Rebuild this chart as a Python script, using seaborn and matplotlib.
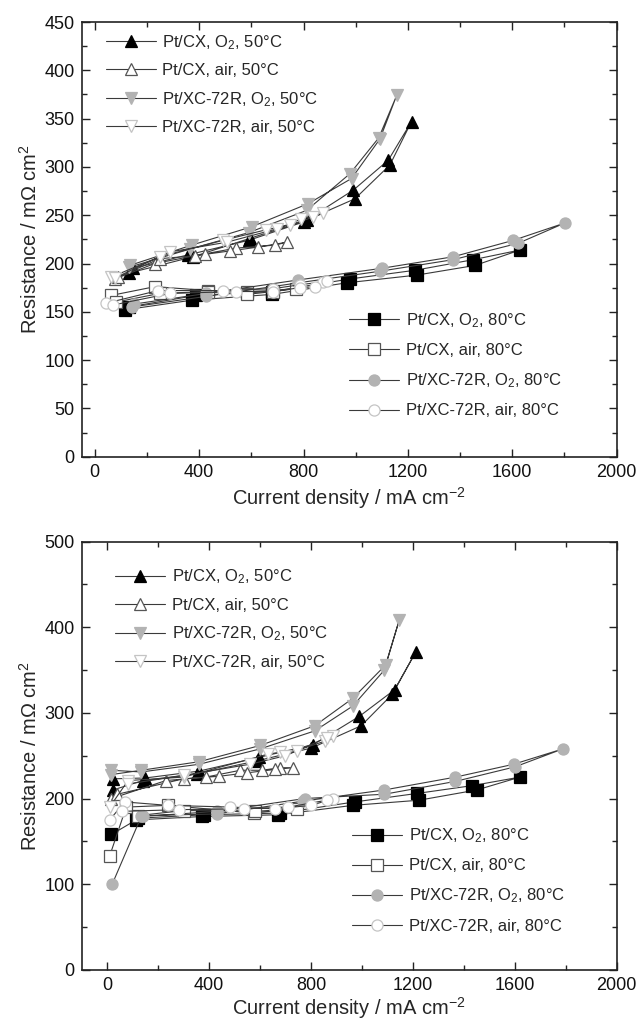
import matplotlib
matplotlib.use("Agg")
import matplotlib.pyplot as plt
import seaborn as sns
from matplotlib.ticker import MultipleLocator

sns.set_theme(style="ticks")
plt.rcParams['font.family'] = ['Liberation Sans', 'DejaVu Sans']
plt.rcParams['mathtext.fontset'] = 'custom'
plt.rcParams['mathtext.rm'] = 'Liberation Sans'
plt.rcParams['mathtext.it'] = 'Liberation Sans:italic'
plt.rcParams['mathtext.bf'] = 'Liberation Sans:bold'

# ---------------- data (current density mA cm-2, resistance mOhm cm2) ----------------
labels = [
    "Pt/CX, O$_2$, 50\u00b0C", "Pt/CX, air, 50\u00b0C",
    "Pt/XC-72R, O$_2$, 50\u00b0C", "Pt/XC-72R, air, 50\u00b0C",
    "Pt/CX, O$_2$, 80\u00b0C", "Pt/CX, air, 80\u00b0C",
    "Pt/XC-72R, O$_2$, 80\u00b0C", "Pt/XC-72R, air, 80\u00b0C",
]

# top panel
top_cx_o2_50_x = [130, 377, 594, 812, 997, 1131, 1214, 1125, 991, 800, 590, 358, 147]
top_cx_o2_50_y = [190, 207, 226, 245, 267, 302, 347, 307, 276, 243, 224, 209, 195]
top_cx_air_50_x = [77, 230, 422, 543, 690, 735, 626, 518, 383, 249, 90]
top_cx_air_50_y = [184, 200, 210, 216, 219, 222, 217, 213, 208, 205, 186]
top_xc_o2_50_x = [134, 371, 601, 818, 984, 1093, 1157, 1088, 978, 812, 590, 365, 130]
top_xc_o2_50_y = [198, 219, 238, 262, 288, 329, 374, 330, 293, 255, 232, 215, 196]
top_xc_air_50_x = [64, 249, 492, 658, 748, 837, 876, 790, 700, 505, 288, 77]
top_xc_air_50_y = [186, 207, 224, 235, 240, 248, 252, 246, 236, 222, 212, 185]

top_cx_o2_80_x = [115, 371, 678, 965, 1234, 1457, 1630, 1451, 1227, 978, 678, 390, 130]
top_cx_o2_80_y = [152, 162, 168, 180, 188, 198, 214, 204, 193, 184, 171, 167, 155]
top_cx_air_80_x = [64, 230, 435, 582, 684, 773, 684, 582, 435, 249, 80]
top_cx_air_80_y = [167, 176, 172, 171, 172, 174, 171, 168, 171, 169, 160]
top_xc_o2_80_x = [141, 428, 780, 1093, 1374, 1623, 1802, 1604, 1374, 1099, 780, 428, 150]
top_xc_o2_80_y = [155, 166, 180, 192, 204, 221, 242, 224, 207, 195, 183, 169, 158]
top_xc_air_80_x = [45, 243, 492, 684, 786, 876, 889, 844, 786, 684, 543, 288, 70]
top_xc_air_80_y = [159, 172, 172, 174, 178, 181, 182, 176, 175, 171, 171, 169, 157]

# bottom panel
bot_cx_o2_50_x = [23, 140, 354, 588, 802, 997, 1120, 1211, 1128, 990, 809, 595, 360, 150, 23]
bot_cx_o2_50_y = [210, 221, 229, 244, 259, 285, 322, 371, 327, 296, 263, 248, 232, 224, 223]
bot_cx_air_50_x = [17, 231, 387, 523, 607, 679, 731, 660, 549, 440, 300, 40]
bot_cx_air_50_y = [200, 221, 225, 233, 233, 236, 236, 234, 230, 226, 223, 205]
bot_xc_o2_50_x = [17, 134, 361, 601, 815, 964, 1088, 1146, 1093, 964, 815, 601, 361, 134, 17]
bot_xc_o2_50_y = [233, 231, 240, 258, 279, 308, 350, 408, 356, 317, 285, 262, 243, 233, 228]
bot_xc_air_50_x = [10, 82, 300, 633, 679, 744, 854, 887, 861, 700, 560, 300, 82]
bot_xc_air_50_y = [190, 221, 225, 252, 254, 256, 267, 273, 271, 250, 240, 227, 217]

bot_cx_o2_80_x = [17, 114, 374, 672, 964, 1224, 1451, 1620, 1432, 1218, 971, 680, 380, 120]
bot_cx_o2_80_y = [158, 175, 179, 181, 192, 198, 210, 225, 215, 206, 196, 183, 181, 177]
bot_cx_air_80_x = [10, 75, 238, 575, 744, 580, 300, 120]
bot_cx_air_80_y = [133, 190, 192, 183, 188, 185, 186, 180]
bot_xc_o2_80_x = [20, 134, 432, 776, 1088, 1367, 1601, 1789, 1595, 1367, 1088, 770, 430, 140]
bot_xc_o2_80_y = [100, 179, 185, 200, 205, 220, 237, 258, 240, 225, 210, 197, 182, 180]
bot_xc_air_80_x = [10, 69, 238, 484, 660, 802, 887, 861, 711, 536, 283, 60]
bot_xc_air_80_y = [175, 196, 192, 190, 188, 192, 200, 198, 190, 188, 187, 185]

top_series = [
    (top_cx_o2_50_x, top_cx_o2_50_y), (top_cx_air_50_x, top_cx_air_50_y),
    (top_xc_o2_50_x, top_xc_o2_50_y), (top_xc_air_50_x, top_xc_air_50_y),
    (top_cx_o2_80_x, top_cx_o2_80_y), (top_cx_air_80_x, top_cx_air_80_y),
    (top_xc_o2_80_x, top_xc_o2_80_y), (top_xc_air_80_x, top_xc_air_80_y),
]
bot_series = [
    (bot_cx_o2_50_x, bot_cx_o2_50_y), (bot_cx_air_50_x, bot_cx_air_50_y),
    (bot_xc_o2_50_x, bot_xc_o2_50_y), (bot_xc_air_50_x, bot_xc_air_50_y),
    (bot_cx_o2_80_x, bot_cx_o2_80_y), (bot_cx_air_80_x, bot_cx_air_80_y),
    (bot_xc_o2_80_x, bot_xc_o2_80_y), (bot_xc_air_80_x, bot_xc_air_80_y),
]

# ---------------- styles ----------------
GRAY = "#b3b3b3"
LGRAY = "#c4c4c4"
styles = [
    dict(marker="^", mfc="black", mec="black"),
    dict(marker="^", mfc="white", mec="#555555"),
    dict(marker="v", mfc=GRAY, mec=GRAY),
    dict(marker="v", mfc="white", mec=LGRAY),
    dict(marker="s", mfc="black", mec="black"),
    dict(marker="s", mfc="white", mec="#555555"),
    dict(marker="o", mfc=GRAY, mec=GRAY),
    dict(marker="o", mfc="white", mec=LGRAY),
]

fig = plt.figure(figsize=(6.38, 10.24), dpi=100)
ax_top = fig.add_axes([0.128, 0.554, 0.8386, 0.4245])
ax_bot = fig.add_axes([0.128, 0.053, 0.8386, 0.418])


def draw(ax, series):
    for (xs, ys), st, lab in zip(series, styles, labels):
        sns.lineplot(x=xs, y=ys, sort=False, estimator=None, ax=ax,
                     color="#3a3a3a", lw=0.8, marker=st["marker"],
                     markersize=9 if st["marker"] in "^v" else 8,
                     markerfacecolor=st["mfc"], markeredgecolor=st["mec"],
                     markeredgewidth=0.9, label=lab, legend=False)
    if ax.get_legend() is not None:
        ax.get_legend().remove()


def style_axes(ax, ylim, ymaj, ymin, xlim, xpad):
    ax.set_xlim(*xlim)
    ax.set_ylim(*ylim)
    ax.xaxis.set_major_locator(MultipleLocator(400))
    ax.xaxis.set_minor_locator(MultipleLocator(200))
    ax.yaxis.set_major_locator(MultipleLocator(ymaj))
    ax.yaxis.set_minor_locator(MultipleLocator(ymin))
    ax.tick_params(which="both", direction="in", top=True, right=True,
                   width=1.0, colors="#222222", labelcolor="#111111", labelsize=13)
    ax.tick_params(which="major", length=6, pad=5)
    ax.tick_params(which="minor", length=3.5)
    for s in ax.spines.values():
        s.set_visible(True)
        s.set_linewidth(1.2)
        s.set_color("#222222")
    ax.set_xlabel("Current density / mA cm$^{-2}$", fontsize=14.5, labelpad=xpad)
    ax.set_ylabel("Resistance / m\u03a9 cm$^{2}$", fontsize=14.5, labelpad=3)


def legends(ax, pos50, pos80):
    h, l = ax.get_legend_handles_labels()
    kw = dict(frameon=False, fontsize=12, handlelength=3.0, handletextpad=0.4,
              borderpad=0, borderaxespad=0, numpoints=1, loc="upper left")
    leg1 = ax.legend(h[:4], l[:4], bbox_to_anchor=pos50, labelspacing=0.7, **kw)
    ax.add_artist(leg1)
    ax.legend(h[4:], l[4:], bbox_to_anchor=pos80, labelspacing=0.8, **kw)


draw(ax_top, top_series)
style_axes(ax_top, (0, 450), 50, 25, (-50, 2000), 3)
legends(ax_top, (0.045, 0.975), (0.5, 0.335))

draw(ax_bot, bot_series)
style_axes(ax_bot, (0, 500), 100, 50, (-100, 2000), 1)
legends(ax_bot, (0.062, 0.94), (0.505, 0.335))

fig.savefig("out.png", dpi=100)
